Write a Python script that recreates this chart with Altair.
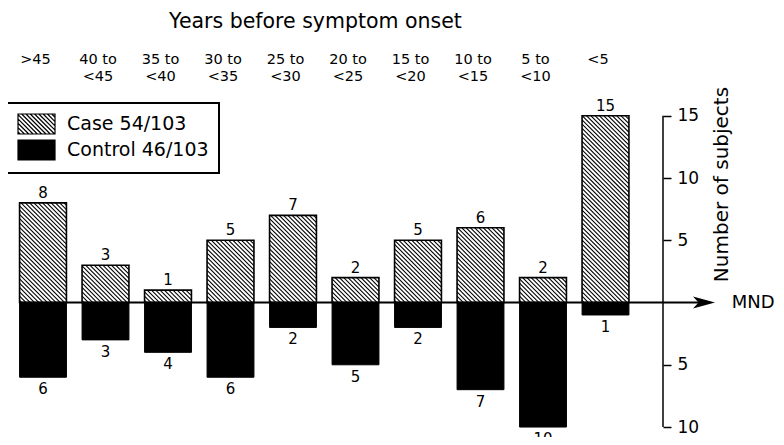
import json
import altair as alt
import pandas as pd

# ---------------- data ----------------
header_line1 = [">45", "40 to", "35 to", "30 to", "25 to", "20 to", "15 to", "10 to", "5 to", "<5"]
header_line2 = ["", "<45", "<40", "<35", "<30", "<25", "<20", "<15", "<10", ""]
case_counts = [8, 3, 1, 5, 7, 2, 5, 6, 2, 15]
control_counts = [6, 3, 4, 6, 2, 5, 2, 7, 10, 1]
series_names = ["Case 54/103", "Control 46/103"]
y_tick_values = [15, 10, 5, -5, -10]
title_top = "Years before symptom onset"
title_right = "Number of subjects"
axis_label_mnd = "MND"

# ---------------- layout / style ----------------
FONT = "DejaVu Sans"
W_PLOT, H_PLOT = 655, 349
X_DOM = [-0.56, 9.92]
Y_DOM = [-10.80, 17.23]
SX = W_PLOT / (X_DOM[1] - X_DOM[0])      # px per x unit
SY = H_PLOT / (Y_DOM[1] - Y_DOM[0])      # px per y unit
HW = 0.375                               # half bar width (x units)
BAR_PX = 2 * HW * SX
S = 4.3                                  # hatch spacing (px)

df = pd.DataFrame({"i": list(range(len(case_counts))),
                   "case": case_counts,
                   "control": control_counts})

xs = alt.Scale(domain=X_DOM, nice=False, zero=False)
ys = alt.Scale(domain=Y_DOM, nice=False, zero=False)

header_lines = [[a, b] for a, b in zip(header_line1, header_line2)]
top_axis = alt.Axis(
    orient="top", values=list(range(len(header_lines))),
    labelExpr=json.dumps(header_lines) + "[datum.value]",
    ticks=False, tickSize=0, domain=False, grid=False,
    labelPadding=22, labelFontSize=14.5, labelLineHeight=17, labelBaseline="bottom",
    labelOffset=-8, labelOverlap=False, labelFlush=False, labelAngle=0,
    labelColor="black", labelFont=FONT,
    title=title_top, titleFontSize=20.5, titleFontWeight="normal", titleFont=FONT,
    titleColor="black", titleX=307, titleY=-61, titleAlign="center",
    titleBaseline="alphabetic",
)
right_axis = alt.Axis(
    orient="right", values=y_tick_values, labelExpr="abs(datum.value)",
    domain=False, grid=False, tickSize=8, tickWidth=1.5, tickColor="black",
    labelFontSize=17, labelPadding=6, labelColor="black", labelFont=FONT,
    labelFlush=False, labelOverlap=False,
    title=title_right, titleAngle=270, titleX=64, titleY=96, titleAlign="center",
    titleBaseline="alphabetic", titleFontSize=20, titleFontWeight="normal",
    titleColor="black", titleFont=FONT,
)

base = alt.Chart(df).transform_calculate(
    x0=f"datum.i - {HW}").transform_calculate(
    x1=f"datum.i + {HW}").transform_calculate(
    negc="-datum.control")

case_fill = base.mark_rect(fill="white").encode(
    x=alt.X("x0:Q", scale=xs, axis=top_axis),
    x2="x1:Q",
    y=alt.Y("case:Q", scale=ys, axis=right_axis),
    y2=alt.Y2Datum(0),
)

control_bars = base.mark_rect(fill="black", stroke="black", strokeWidth=1).encode(
    x="x0:Q", x2="x1:Q", y="negc:Q", y2=alt.Y2Datum(0),
)

hatch = (
    alt.Chart(df)
    .transform_calculate(H=f"datum.case * {SY}")
    .transform_calculate(cs=f"sequence({S / 2}, {BAR_PX} + datum.H, {S})")
    .transform_flatten(["cs"], as_=["c"])
    .transform_calculate(X1="max(0, datum.c - datum.H)")
    .transform_calculate(X2=f"min({BAR_PX}, datum.c)")
    .transform_calculate(hx1=f"datum.i - {HW} + datum.X1 / {SX}")
    .transform_calculate(hy1=f"(datum.c - datum.X1) / {SY}")
    .transform_calculate(hx2=f"datum.i - {HW} + datum.X2 / {SX}")
    .transform_calculate(hy2=f"(datum.c - datum.X2) / {SY}")
    .mark_rule(color="black", strokeWidth=1.1)
    .encode(x="hx1:Q", y="hy1:Q", x2="hx2:Q", y2="hy2:Q")
)

case_outline = base.mark_rect(fillOpacity=0, stroke="black", strokeWidth=1.6).encode(
    x="x0:Q", x2="x1:Q", y="case:Q", y2=alt.Y2Datum(0),
)

one = pd.DataFrame({"k": [0]})
zero_line = alt.Chart(one).mark_rule(color="black", strokeWidth=2).encode(
    x=alt.datum(-HW), x2=alt.X2Datum(10.55), y=alt.datum(0),
)
arrow_path = "M1,0L-1,-0.55L-0.5,0L-1,0.55Z"
arrow = alt.Chart(one).mark_point(shape=arrow_path, size=484, filled=True,
                                  color="black", opacity=1).encode(
    x=alt.datum(10.576), y=alt.datum(0))
mnd = alt.Chart(one).mark_text(text=axis_label_mnd, align="left", baseline="middle",
                               fontSize=18, font=FONT, color="black").encode(
    x=alt.datum(11.02), y=alt.datum(0))
axis_line = alt.Chart(one).mark_rule(color="black", strokeWidth=1.5).encode(
    x=alt.datum(X_DOM[1]),
    y=alt.datum(min(y_tick_values)), y2=alt.Y2Datum(max(y_tick_values)))

case_labels = base.mark_text(baseline="alphabetic", dy=-5, fontSize=15, font=FONT,
                             color="black").encode(
    x="i:Q", y="case:Q", text="case:Q")
control_labels = base.mark_text(baseline="alphabetic", dy=17, fontSize=15, font=FONT,
                                color="black").encode(
    x="i:Q", y="negc:Q", text="control:Q")

# legend swatches as custom symbol paths
HX, HY = 1.85, 1.0
solid_path = f"M{-HX},{-HY}H{HX}V{HY}H{-HX}Z"
segs = []
step = S / 10.0
c = -(HX + HY) + step / 2
while c < HX + HY:
    y1 = max(-HY, -HX - c)
    y2 = min(HY, HX - c)
    if y2 > y1:
        segs.append(f"M{c + y1:.3f},{y1:.3f}L{c + y2:.3f},{y2:.3f}")
    c += step
hatch_path = solid_path + "".join(segs)

legend = alt.Legend(
    orient="none", legendX=-1, legendY=15, title=None, padding=10,
    strokeColor="black", rowPadding=0, symbolSize=400, symbolOpacity=1,
    symbolStrokeColor="black", symbolStrokeWidth=1.2, symbolOffset=8.5,
    labelFontSize=19, labelFont=FONT, labelColor="black", labelOffset=19.5,
)
legend_df = pd.DataFrame({"series": series_names})
legend_layer = alt.Chart(legend_df).mark_point(filled=True, clip=True, opacity=1,
                                               strokeWidth=1.2).encode(
    x=alt.datum(-5), y=alt.datum(0),
    color=alt.Color("series:N", scale=alt.Scale(domain=series_names, range=["white", "black"]),
                    legend=legend),
    shape=alt.Shape("series:N", scale=alt.Scale(domain=series_names, range=[hatch_path, solid_path]),
                    legend=legend),
    stroke=alt.Stroke("series:N", scale=alt.Scale(domain=series_names, range=["black", "black"]),
                      legend=legend),
)

chart = alt.layer(
    case_fill, control_bars, hatch, case_outline, zero_line, arrow, mnd, axis_line,
    case_labels, control_labels, legend_layer,
).properties(
    width=W_PLOT, height=H_PLOT,
    autosize=alt.AutoSizeParams(type="none"),
    padding={"left": 0, "top": 80, "right": 113, "bottom": 0},
).configure(font=FONT).configure_view(stroke=None).configure_legend(strokeWidth=2)

chart.save("out.html", embed_options={"renderer": "svg", "actions": False})
